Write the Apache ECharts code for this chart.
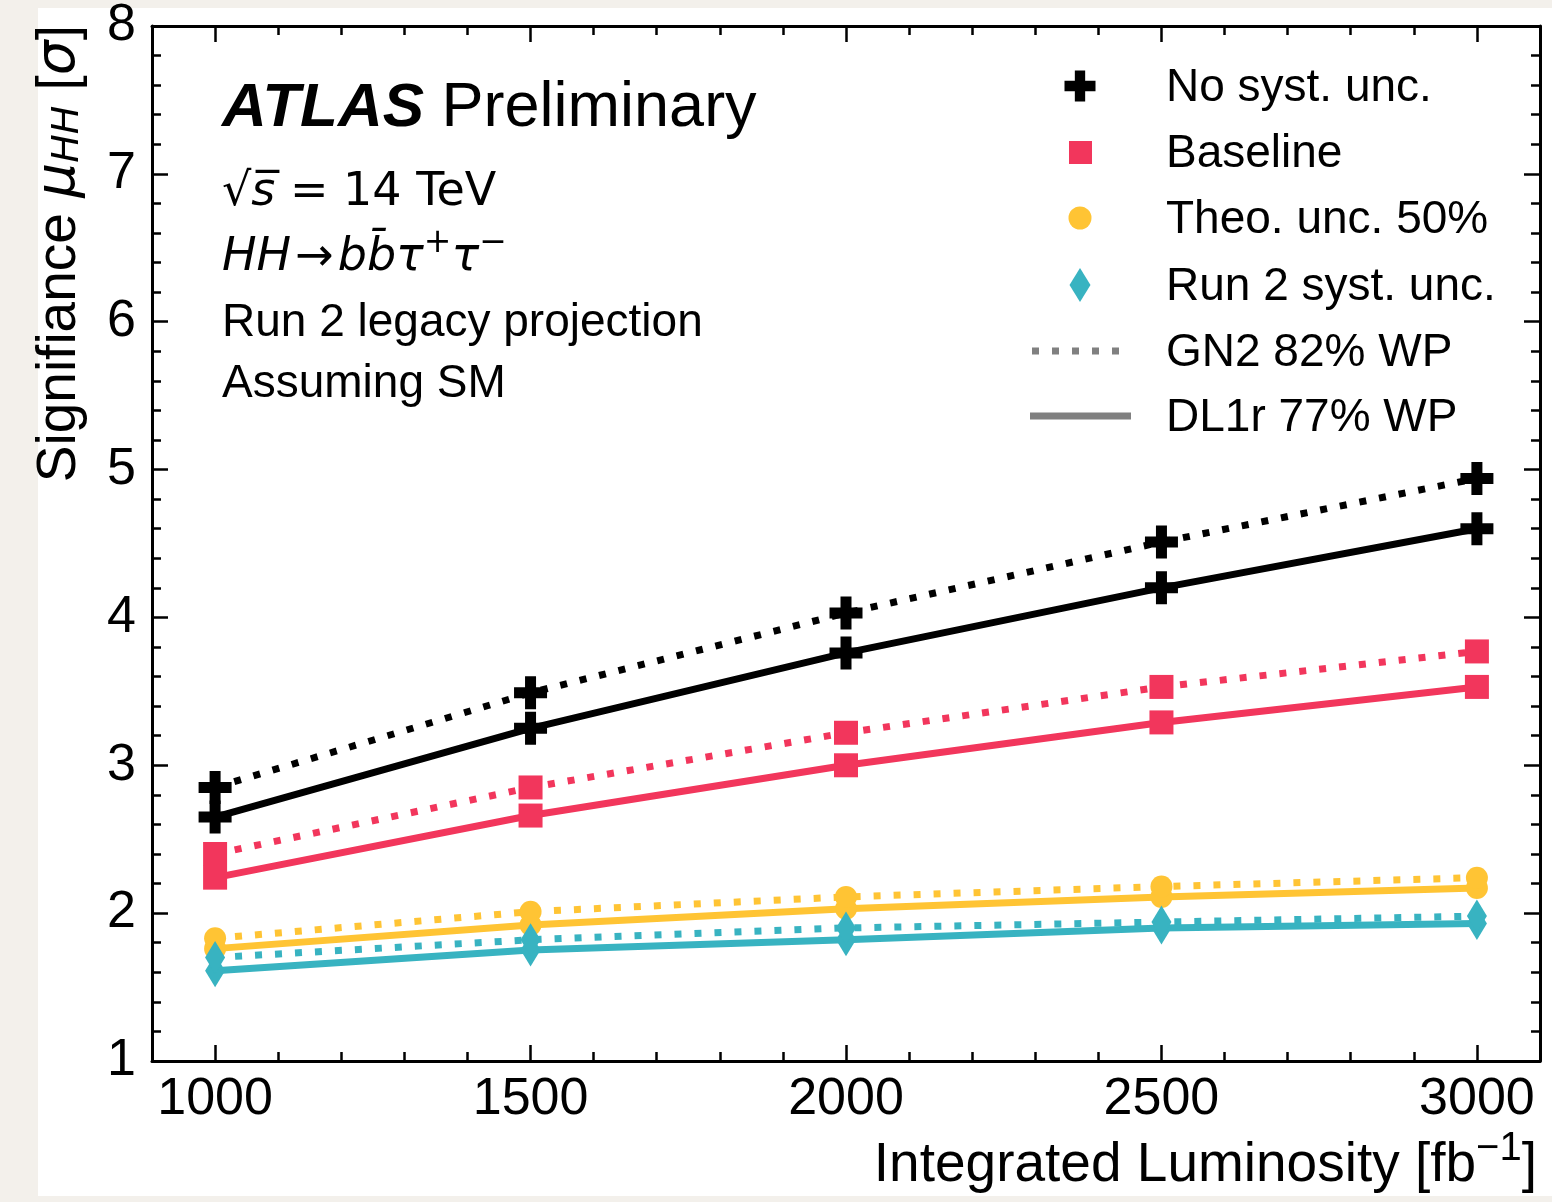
<!DOCTYPE html>
<html>
<head>
<meta charset="utf-8">
<script src="https://cdn.jsdelivr.net/npm/echarts@6/dist/echarts.min.js"></script>
<style>
  html, body { margin: 0; padding: 0; background: #f3f0eb; }
  #paper { position: absolute; left: 38px; top: 8px; width: 1514px; height: 1188px; background: #ffffff; }
  #chart { position: absolute; left: 0; top: 0; width: 1552px; height: 1202px; }
</style>
</head>
<body>
<div id="paper"></div>
<div id="chart"></div>
<script>
// ---- data ----
const lumi = [1000, 1500, 2000, 2500, 3000];
const noSystGN2   = [2.85, 3.49, 4.03, 4.51, 4.94];
const noSystDL1r  = [2.65, 3.25, 3.76, 4.20, 4.60];
const baselineGN2 = [2.40, 2.85, 3.22, 3.53, 3.77];
const baselineDL1r= [2.24, 2.66, 3.00, 3.29, 3.53];
const theoGN2     = [1.83, 2.01, 2.11, 2.18, 2.24];
const theoDL1r    = [1.76, 1.92, 2.03, 2.11, 2.17];
const run2GN2     = [1.70, 1.82, 1.90, 1.94, 1.98];
const run2DL1r    = [1.61, 1.75, 1.82, 1.90, 1.93];
const xMajorTicks = [1000, 1500, 2000, 2500, 3000];
const xMinorTicks = [900, 1100, 1200, 1300, 1400, 1600, 1700, 1800, 1900, 2100, 2200, 2300, 2400, 2600, 2700, 2800, 2900, 3100];
const legendNames = ['No syst. unc.', 'Baseline', 'Theo. unc. 50%', 'Run 2 syst. unc.', 'GN2 82% WP', 'DL1r 77% WP'];

// ---- styles ----
const C = { black: '#000000', red: '#f2365c', yellow: '#ffc434', teal: '#38b3c1', gray: '#808080' };
const PLUS = 'path://M1,0 H2 V1 H3 V2 H2 V3 H1 V2 H0 V1 H1 Z';
const SANS = '"Liberation Sans", Arial, Helvetica, sans-serif';
const DJV = '"DejaVu Sans", sans-serif';

function pairs(ys) { return lumi.map((x, i) => [x, ys[i]]); }
function mk(name, ys, color, symbol, size, dotted) {
  return {
    type: 'line', name: name, data: pairs(ys),
    symbol: symbol, symbolSize: size, showSymbol: true,
    itemStyle: { color: color, opacity: 1 },
    lineStyle: { color: color, width: 7, type: dotted ? [7, 13] : 'solid', cap: 'butt' },
    z: dotted ? 3 : 2, animation: false, silent: true
  };
}

const series = [
  mk('noSystDL1r', noSystDL1r, C.black, PLUS, 33, false),
  mk('noSystGN2', noSystGN2, C.black, PLUS, 33, true),
  mk('baselineDL1r', baselineDL1r, C.red, 'rect', 24, false),
  mk('baselineGN2', baselineGN2, C.red, 'rect', 24, true),
  mk('theoDL1r', theoDL1r, C.yellow, 'circle', 22, false),
  mk('theoGN2', theoGN2, C.yellow, 'circle', 22, true),
  mk('run2DL1r', run2DL1r, C.teal, 'diamond', [20, 33], false),
  mk('run2GN2', run2GN2, C.teal, 'diamond', [20, 33], true)
];

function xAxisDef(pos, values, len, showLabel, showLine) {
  return {
    type: 'value', position: pos, min: 900, max: 3100,
    axisLine: { show: showLine, onZero: false, lineStyle: { color: '#000', width: 3 } },
    axisTick: { show: true, inside: true, length: len, customValues: values, lineStyle: { color: '#000', width: 2.5 } },
    axisLabel: { show: showLabel, customValues: values, fontSize: 52, fontFamily: SANS, color: '#000', margin: 13,
                 formatter: v => String(v) },
    splitLine: { show: false }
  };
}
function yAxisDef(pos, showLabel) {
  return {
    type: 'value', position: pos, min: 1, max: 8, interval: 1,
    axisLine: { show: true, onZero: false, lineStyle: { color: '#000', width: 3 } },
    axisTick: { show: true, inside: true, length: 16, lineStyle: { color: '#000', width: 2.5 } },
    minorTick: { show: true, splitNumber: 5, length: 9, lineStyle: { color: '#000', width: 2.5 } },
    axisLabel: { show: showLabel, fontSize: 52, fontFamily: SANS, color: '#000', margin: 16 },
    splitLine: { show: false }
  };
}

// legend graphics
const legY = [86, 152, 218, 285, 351, 416];
const legendGraphics = [];
(function () {
  const cx = 1080, cy = legY[0], s = 31 / 3, o = -31 / 2;
  const pts = [[1,0],[2,0],[2,1],[3,1],[3,2],[2,2],[2,3],[1,3],[1,2],[0,2],[0,1],[1,1]]
    .map(p => [cx + o + p[0] * s, cy + o + p[1] * s]);
  legendGraphics.push({ type: 'polygon', shape: { points: pts }, style: { fill: C.black } });
})();
legendGraphics.push({ type: 'rect', shape: { x: 1069, y: legY[1] - 11, width: 23, height: 23 }, style: { fill: C.red } });
legendGraphics.push({ type: 'circle', shape: { cx: 1080, cy: legY[2], r: 11.5 }, style: { fill: C.yellow } });
legendGraphics.push({ type: 'polygon', shape: { points: [[1080, legY[3] - 17], [1090.5, legY[3]], [1080, legY[3] + 17], [1069.5, legY[3]]] }, style: { fill: C.teal } });
legendGraphics.push({ type: 'line', shape: { x1: 1032, y1: legY[4], x2: 1128, y2: legY[4] }, style: { stroke: C.gray, lineWidth: 7, lineDash: [7, 13] } });
legendGraphics.push({ type: 'line', shape: { x1: 1030, y1: legY[5], x2: 1131, y2: legY[5] }, style: { stroke: C.gray, lineWidth: 7 } });
legendNames.forEach((n, i) => {
  legendGraphics.push({ type: 'text', x: 1166, y: legY[i] + 2, style: { text: n, font: '46px ' + SANS, fill: '#000', textAlign: 'left', textVerticalAlign: 'middle' } });
});

const textGraphics = [
  { type: 'text', x: 222, y: 109, style: {
      text: '{b|ATLAS}{r| Preliminary}', textAlign: 'left', textVerticalAlign: 'middle',
      rich: { b: { fontSize: 62, fontWeight: 'bold', fontStyle: 'italic', fontFamily: SANS, fill: '#000' },
              r: { fontSize: 63, fontFamily: SANS, fill: '#000' } } } },
  { type: 'text', x: 222, y: 193, style: {
      text: '{n|√}{i|s\u0305}{n| = 14 TeV}', textAlign: 'left', textVerticalAlign: 'middle',
      rich: { n: { fontSize: 46, fontFamily: DJV, fill: '#000' },
              i: { fontSize: 46, fontFamily: DJV, fontStyle: 'italic', fill: '#000' } } } },
  { type: 'text', x: 222, y: 258, style: {
      text: '{i|HH}{n|→}{i|bb\u0304τ}{s|+}{i|τ}{s|−}', textAlign: 'left', textVerticalAlign: 'middle',
      rich: { n: { fontSize: 46, lineHeight: 62, fontFamily: DJV, fill: '#000', padding: [0, 4, 0, 4] },
              i: { fontSize: 46, lineHeight: 62, fontFamily: DJV, fontStyle: 'italic', fill: '#000' },
              s: { fontSize: 33, lineHeight: 33, fontFamily: DJV, fill: '#000', verticalAlign: 'top' } } } },
  { type: 'text', x: 222, y: 323, style: { text: 'Run 2 legacy projection', font: '46px ' + SANS, fill: '#000', textAlign: 'left', textVerticalAlign: 'middle' } },
  { type: 'text', x: 222, y: 384, style: { text: 'Assuming SM', font: '46px ' + SANS, fill: '#000', textAlign: 'left', textVerticalAlign: 'middle' } },
  // x axis title
  { type: 'text', x: 1537, y: 1166, style: {
      text: '{n|Integrated Luminosity [fb}{s|−1}{n|]}', textAlign: 'right', textVerticalAlign: 'middle',
      rich: { n: { fontSize: 55, lineHeight: 74, fontFamily: SANS, fill: '#000' },
              s: { fontSize: 40, lineHeight: 40, fontFamily: SANS, fill: '#000', verticalAlign: 'top' } } } },
  // y axis title
  { type: 'text', x: 60, y: 25, rotation: Math.PI / 2, style: {
      text: '{n|Signifiance }{i|μ}{sub|HH}{n| [}{i|σ}{n|]}', textAlign: 'right', textVerticalAlign: 'middle',
      rich: { n: { fontSize: 55, fontFamily: SANS, fill: '#000' },
              i: { fontSize: 55, fontFamily: DJV, fontStyle: 'italic', fill: '#000' },
              sub: { fontSize: 38, fontFamily: DJV, fontStyle: 'italic', fill: '#000', verticalAlign: 'bottom' } } } }
];

const chart = echarts.init(document.getElementById('chart'), null, { renderer: 'canvas' });
chart.setOption({
  animation: false,
  backgroundColor: 'transparent',
  grid: { left: 152, top: 25, right: 12, bottom: 141, containLabel: false },
  xAxis: [
    xAxisDef('bottom', xMajorTicks, 16, true, true),
    xAxisDef('bottom', xMinorTicks, 9, false, false),
    xAxisDef('top', xMajorTicks, 16, false, true),
    xAxisDef('top', xMinorTicks, 9, false, false)
  ],
  yAxis: [yAxisDef('left', true), yAxisDef('right', false)],
  series: series,
  graphic: legendGraphics.concat(textGraphics)
});
</script>
</body>
</html>
